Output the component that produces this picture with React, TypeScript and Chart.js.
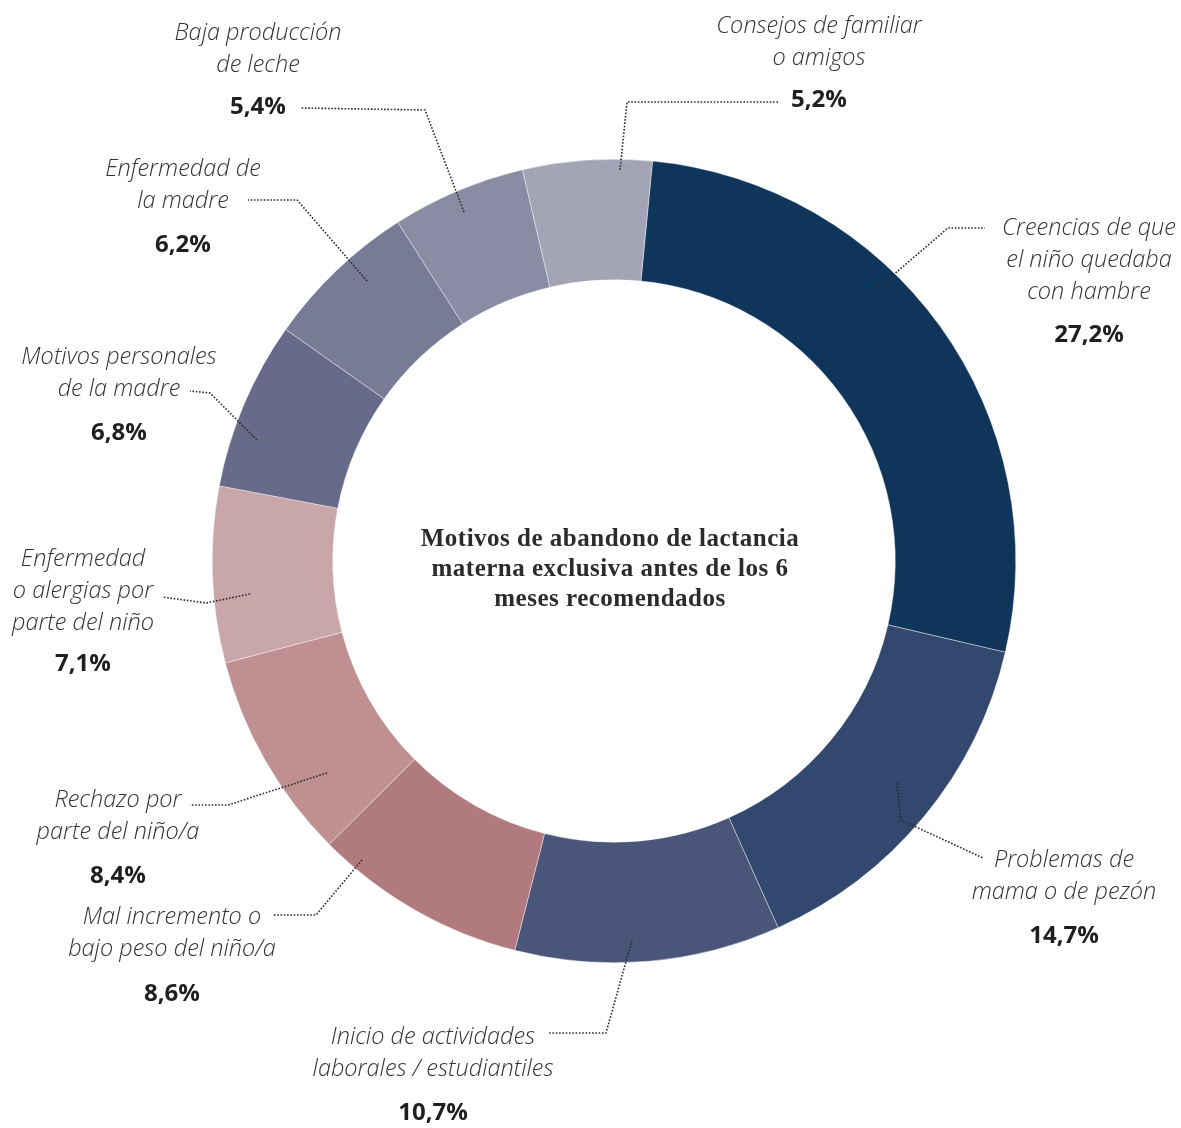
import React, { useEffect, useRef } from "react";
import { Chart, registerables } from "chart.js";

Chart.register(...registerables);

// ---- Data ----
const categories = [
  "Creencias de que el niño quedaba con hambre",
  "Problemas de mama o de pezón",
  "Inicio de actividades laborales / estudiantiles",
  "Mal incremento o bajo peso del niño/a",
  "Rechazo por parte del niño/a",
  "Enfermedad o alergias por parte del niño",
  "Motivos personales de la madre",
  "Enfermedad de la madre",
  "Baja producción de leche",
  "Consejos de familiar o amigos",
];
const values = [27.2, 14.7, 10.7, 8.6, 8.4, 7.1, 6.8, 6.2, 5.4, 5.2];
const labelLines = [
  ["Creencias de que", "el niño quedaba", "con hambre"],
  ["Problemas de", "mama o de pezón"],
  ["Inicio de actividades", "laborales / estudiantiles"],
  ["Mal incremento o", "bajo peso del niño/a"],
  ["Rechazo por", "parte del niño/a"],
  ["Enfermedad", "o alergias por", "parte del niño"],
  ["Motivos personales", "de la madre"],
  ["Enfermedad de", "la madre"],
  ["Baja producción", "de leche"],
  ["Consejos de familiar", "o amigos"],
];
const centerTitle = [
  "Motivos de abandono de lactancia",
  "materna exclusiva antes de los 6",
  "meses recomendados",
];
const colors = [
  "#10355b",
  "#33486e",
  "#4a5679",
  "#b07a7e",
  "#bf8f91",
  "#c9a6a9",
  "#676a89",
  "#787b96",
  "#8a8ca4",
  "#a3a4b6",
];

// ---- Annotation layout (label positions and leader lines) ----
const labelX = [1089, 1064, 433, 172, 118, 83, 119, 183, 258, 819];
const labelY0 = [228, 860, 1037, 917, 800, 559, 357, 169, 33, 26];
const pctY = [335, 936, 1113, 994, 876, 664, 433, 245, 107, 100];
const leaders: number[][][] = [
  [[878, 288], [948, 228], [985, 228]],
  [[897, 783], [901, 820], [983, 858]],
  [[632, 940], [606, 1033], [548, 1033]],
  [[362, 860], [316, 915], [273, 915]],
  [[327, 773], [228, 805], [190, 805]],
  [[250, 594], [206, 603], [162, 597]],
  [[257, 440], [210, 393], [190, 391]],
  [[367, 281], [297, 200], [248, 200]],
  [[464, 212], [425, 110], [300, 108]],
  [[620, 170], [627, 102], [778, 102]],
];
const LINE_H = 32;

const fmtPct = (v: number) => v.toFixed(1).replace(".", ",") + "%";

const annotationPlugin = {
  id: "annotations",
  afterDraw(chart: any) {
    const ctx: any = chart.ctx;
    ctx.save();
    // leader lines
    ctx.strokeStyle = "#2a2a2a";
    ctx.lineWidth = 1.6;
    ctx.setLineDash([1.6, 1.7]);
    leaders.forEach((pts) => {
      ctx.beginPath();
      pts.forEach((p, i) => (i === 0 ? ctx.moveTo(p[0], p[1]) : ctx.lineTo(p[0], p[1])));
      ctx.stroke();
    });
    ctx.setLineDash([]);
    // labels
    ctx.textAlign = "center";
    ctx.textBaseline = "middle";
    labelLines.forEach((lines, i) => {
      ctx.fillStyle = "#333333";
      ctx.font = 'italic 300 23.5px "Open Sans"';
      lines.forEach((t, j) => ctx.fillText(t, labelX[i], labelY0[i] + j * LINE_H));
      ctx.fillStyle = "#1f1f1f";
      ctx.font = 'bold 24px "Open Sans"';
      ctx.fillText(fmtPct(values[i]), labelX[i], pctY[i]);
    });
    // center title
    const meta = chart.getDatasetMeta(0);
    const arc = meta.data[0];
    const cx = arc.x - 4;
    const cy = arc.y;
    ctx.fillStyle = "#2b2b2b";
    ctx.font = 'bold 25px "Liberation Serif"';
    if ("letterSpacing" in ctx) ctx.letterSpacing = "0.5px";
    centerTitle.forEach((t, j) => ctx.fillText(t, cx, cy - 21 + j * 30));
    if ("letterSpacing" in ctx) ctx.letterSpacing = "0px";
    ctx.restore();
  },
};

export default function App() {
  const ref = useRef<HTMLCanvasElement | null>(null);
  useEffect(() => {
    document.body.style.margin = "0";
    document.body.style.overflow = "hidden";
    const chart = new Chart(ref.current as HTMLCanvasElement, {
      type: "doughnut",
      data: {
        labels: categories,
        datasets: [
          {
            data: values,
            backgroundColor: colors,
            borderColor: "#ffffff",
            borderWidth: 0.4,
          },
        ],
      },
      options: {
        animation: false,
        responsive: false,
        cutout: "70%",
        rotation: 5.5,
        layout: { padding: { left: 212, right: 165, top: 159, bottom: 165 } },
        plugins: { legend: { display: false }, tooltip: { enabled: false } },
      },
      plugins: [annotationPlugin],
    });
    return () => chart.destroy();
  }, []);
  return (
    <div style={{ width: 1181, height: 1128, background: "#ffffff" }}>
      <canvas ref={ref} width={1181} height={1128} />
    </div>
  );
}
